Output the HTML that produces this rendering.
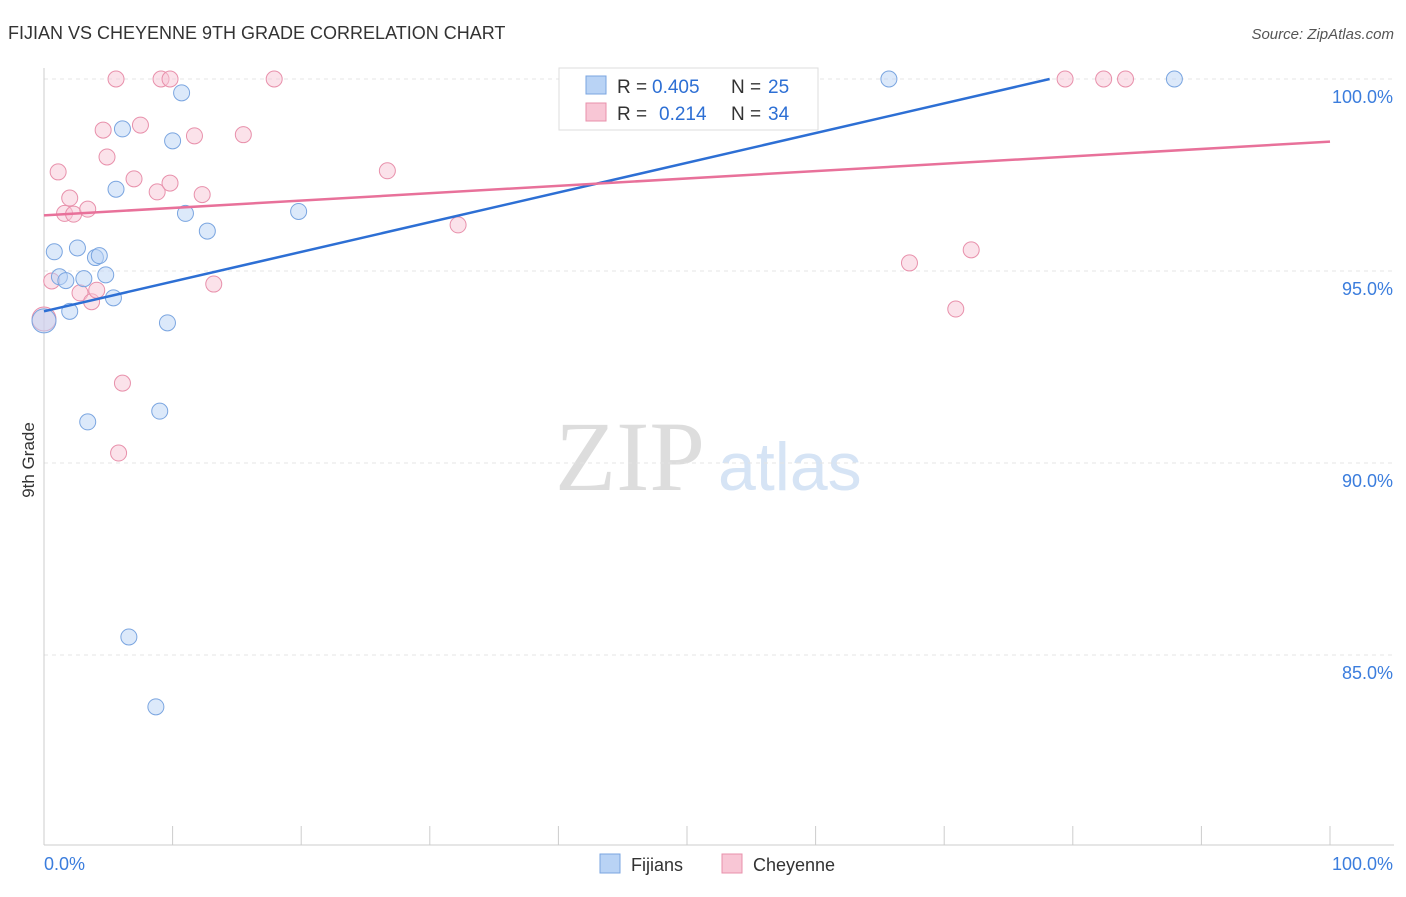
<!DOCTYPE html>
<html><head><meta charset="utf-8"><style>
body{margin:0;background:#fff;font-family:"Liberation Sans",sans-serif;}
#wrap{position:relative;width:1406px;height:892px;}
</style></head><body>
<div id="wrap">
<svg id="svg" width="1406" height="892" xmlns="http://www.w3.org/2000/svg">
<text x="8" y="39" font-size="18" fill="#333">FIJIAN VS CHEYENNE 9TH GRADE CORRELATION CHART</text>
<text x="1394" y="39" font-size="15" fill="#555" text-anchor="end" font-style="italic">Source: ZipAtlas.com</text>
<text x="34" y="460" font-size="17" fill="#333" text-anchor="middle" transform="rotate(-90 34 460)">9th Grade</text>
<text x="555" y="490" font-size="100" fill="#ddd" font-family="Liberation Serif">ZIP</text>
<text x="718" y="490" font-size="68" fill="#d6e4f5">atlas</text>
<g id="grid"></g><g id="marks"></g>
<g>
<rect x="559" y="68" width="259" height="62" fill="#fff" stroke="#ddd"/>
<rect x="586" y="76" width="20" height="18" fill="#b9d3f5" stroke="#7aa5e0"/>
<text x="617" y="93" font-size="19" fill="#333">R =</text>
<text x="652" y="93" font-size="19" fill="#2d6fd4">0.405</text>
<text x="731" y="93" font-size="19" fill="#333">N =</text>
<text x="768" y="93" font-size="19" fill="#2d6fd4">25</text>
<rect x="586" y="103" width="20" height="18" fill="#f8c6d5" stroke="#e890ab"/>
<text x="617" y="120" font-size="19" fill="#333">R =</text>
<text x="659" y="120" font-size="19" fill="#2d6fd4">0.214</text>
<text x="731" y="120" font-size="19" fill="#333">N =</text>
<text x="768" y="120" font-size="19" fill="#2d6fd4">34</text>
</g>
<g>
<rect x="600" y="854" width="20" height="19" fill="#b9d3f5" stroke="#7aa5e0"/>
<text x="631" y="871" font-size="18" fill="#333">Fijians</text>
<rect x="722" y="854" width="20" height="19" fill="#f8c6d5" stroke="#e890ab"/>
<text x="753" y="871" font-size="18" fill="#333">Cheyenne</text>
</g>
</svg></div>
<script>
const yTicks=[100,95,90,85];
const fijX=[0.8,1.2,1.7,2.0,2.6,3.1,4.0,4.3,4.8,5.4,5.6,6.1,6.6,8.7,9.0,9.6,10.0,10.7,11.0,12.7,19.8,3.4,65.7,87.9,0];
const fijY=[95.5,94.85,94.75,93.95,95.6,94.8,95.35,95.4,94.9,94.3,97.13,98.7,85.47,83.65,91.35,93.65,98.39,99.64,96.5,96.04,96.55,91.07,100,100,93.7];
const cheX=[0,1.1,0.6,1.6,2.0,2.3,2.8,3.4,3.7,4.1,4.6,4.9,5.6,5.8,6.1,7.0,7.5,8.8,9.1,9.8,9.8,11.7,12.3,13.2,15.5,17.9,26.7,32.2,67.3,70.9,72.1,79.4,82.4,84.1];
const cheY=[93.75,97.58,94.74,96.5,96.9,96.48,94.43,96.61,94.2,94.5,98.67,97.97,100,90.26,92.08,97.4,98.8,97.06,100,100,97.29,98.52,96.99,94.66,98.55,100,97.61,96.2,95.21,94.01,95.55,100,100,100];
const fijLine=[0,93.95,78.2,100];
const cheLine=[0,96.45,100,98.37];
const X=v=>44+v*12.86, Y=v=>79+(100-v)*38.4;
const NS="http://www.w3.org/2000/svg";
function mk(t,a,p){const e=document.createElementNS(NS,t);for(const k in a)e.setAttribute(k,a[k]);p.appendChild(e);return e;}
const g=document.getElementById('grid'), m=document.getElementById('marks');
yTicks.forEach(t=>{
 const l=mk('line',{x1:44,x2:1394,y1:Y(t),y2:Y(t),stroke:'#e4e4e4','stroke-dasharray':'4,4'},g);
 
 
 const tx=mk('text',{x:1393,y:Y(t)+24,'font-size':18,fill:'#3b7ddd','text-anchor':'end'},g);
 tx.textContent=t.toFixed(1)+'%';
 
 
});
mk('line',{x1:44,x2:44,y1:68,y2:845,stroke:'#ccc'},g);
mk('line',{x1:44,x2:1394,y1:845,y2:845,stroke:'#ccc'},g);
for(let i=0;i<=10;i++){mk('line',{x1:X(i*10),x2:X(i*10),y1:826,y2:845,stroke:'#ccc'},g);}
const xl=mk('text',{x:44,y:870,'font-size':18,fill:'#3b7ddd'},g);xl.textContent='0.0%';

const xr=mk('text',{x:1393,y:870,'font-size':18,fill:'#3b7ddd','text-anchor':'end'},g);xr.textContent='100.0%';

function pts(xs,ys,fill,stroke,name){xs.forEach((x,i)=>{const big=x===0;
 const c=mk('circle',{cx:X(x),cy:Y(ys[i]),r:big?12:8,fill:fill,'fill-opacity':0.5,stroke:stroke,'stroke-width':1},m);
 
 });}
pts(cheX,cheY,'#f8c6d5','#e890ab','cheyenne-point');
pts(fijX,fijY,'#b9d3f5','#7aa5e0','fijian-point');
const l1=mk('line',{x1:X(fijLine[0]),y1:Y(fijLine[1]),x2:X(fijLine[2]),y2:Y(fijLine[3]),stroke:'#2d6fd4','stroke-width':2.5},m);

const l2=mk('line',{x1:X(cheLine[0]),y1:Y(cheLine[1]),x2:X(cheLine[2]),y2:Y(cheLine[3]),stroke:'#e8719a','stroke-width':2.5},m);

</script></body></html>
